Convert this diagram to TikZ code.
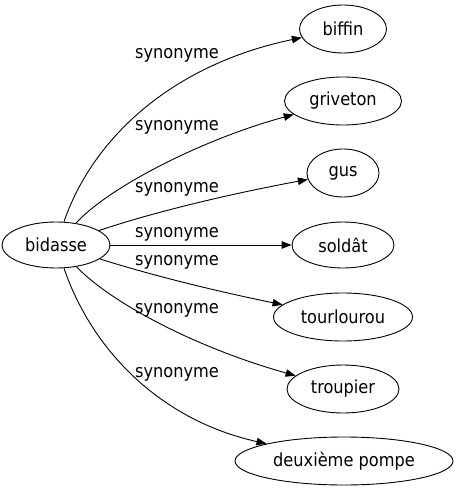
\documentclass[tikz,border=0pt]{standalone}
\usepackage{fontspec}
\setmainfont{DejaVu Sans Condensed}
\usetikzlibrary{arrows.meta,shapes.geometric}
\begin{document}
\begin{tikzpicture}[x=1bp,y=-1bp,
  word/.style={draw,ellipse,inner sep=0pt,line width=0.9bp,font=\fontsize{18bp}{20bp}\selectfont},
  rel/.style={draw,line width=0.9bp,-{Triangle[length=10bp,width=7.5bp]}},
  lbl/.style={inner sep=0pt,font=\fontsize{18bp}{20bp}\selectfont}]
\useasboundingbox (0,0) rectangle (457,491);
\node[word,minimum width=108bp,minimum height=46bp] (bidasse) at (56,245) {bidasse};
\node[word,minimum width=87bp,minimum height=48bp] (biffin) at (343,29) {biffin};
\node[word,minimum width=117bp,minimum height=48bp] (griveton) at (343,101) {griveton};
\node[word,minimum width=72bp,minimum height=48bp] (gus) at (343,173) {gus};
\node[word,minimum width=102bp,minimum height=46bp] (soldat) at (343,245) {soldât};
\node[word,minimum width=139bp,minimum height=48bp] (tourlourou) at (343,317) {tourlourou};
\node[word,minimum width=112bp,minimum height=48bp] (troupier) at (343,389) {troupier};
\node[word,minimum width=218bp,minimum height=48bp] (deuxieme) at (344,461) {deuxième pompe};
\draw[rel] (bidasse) .. controls (92,140) and (170,65) .. (biffin);
\draw[rel] (bidasse) .. controls (108,188) and (200,140) .. (griveton);
\draw[rel] (bidasse) .. controls (160,210) and (240,192) .. (gus);
\draw[rel] (bidasse) -- (soldat);
\draw[rel] (bidasse) .. controls (160,278) and (230,294) .. (tourlourou);
\draw[rel] (bidasse) .. controls (108,300) and (190,346) .. (troupier);
\draw[rel] (bidasse) .. controls (92,350) and (160,420) .. (deuxieme);
\node[lbl] (l1) at (177,55) {synonyme};
\node[lbl] (l2) at (177,127) {synonyme};
\node[lbl] (l3) at (177,189) {synonyme};
\node[lbl] (l4) at (177,234) {synonyme};
\node[lbl] (l5) at (177,262) {synonyme};
\node[lbl] (l6) at (177,310) {synonyme};
\node[lbl] (l7) at (177,374) {synonyme};
\end{tikzpicture}
\end{document}
